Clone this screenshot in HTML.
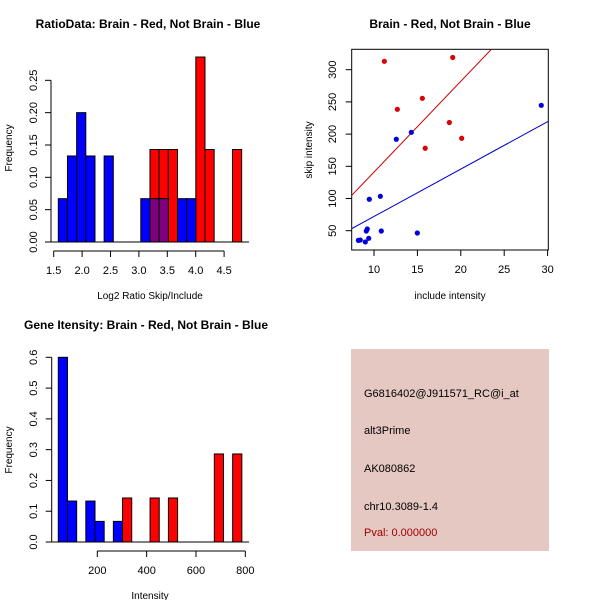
<!DOCTYPE html>
<html><head><meta charset="utf-8"><style>
html,body{margin:0;padding:0;background:#fff;}
svg{display:block;font-family:"Liberation Sans",sans-serif;}
</style></head><body>
<svg id="chart" width="600" height="600" viewBox="0 0 600 600">
<rect x="0" y="0" width="600" height="600" fill="#fff"/>
<text x="148" y="28" text-anchor="middle" font-size="12" font-weight="bold">RatioData: Brain - Red, Not Brain - Blue</text>
<text x="450" y="28" text-anchor="middle" font-size="12" font-weight="bold">Brain - Red, Not Brain - Blue</text>
<text x="146" y="329" text-anchor="middle" font-size="12" font-weight="bold">Gene Itensity: Brain - Red, Not Brain - Blue</text>
<text x="150" y="299" text-anchor="middle" font-size="10">Log2 Ratio Skip/Include</text>
<text x="12" y="148" text-anchor="middle" font-size="10" transform="rotate(-90 12 148)">Frequency</text>
<text x="450" y="299" text-anchor="middle" font-size="10">include intensity</text>
<text x="312" y="150" text-anchor="middle" font-size="10" transform="rotate(-90 312 150)">skip intensity</text>
<text x="150" y="599" text-anchor="middle" font-size="10">Intensity</text>
<text x="12" y="450" text-anchor="middle" font-size="10" transform="rotate(-90 12 450)">Frequency</text>
<g>
<rect x="351" y="349" width="198" height="202" fill="#e6c8c2"/>
<text x="364" y="397" font-size="11" fill="#000">G6816402@J911571_RC@i_at</text>
<text x="364" y="434" font-size="11" fill="#000">alt3Prime</text>
<text x="364" y="472" font-size="11" fill="#000">AK080862</text>
<text x="364" y="510" font-size="11" fill="#000">chr10.3089-1.4</text>
<text x="364" y="536" font-size="11" fill="#a00000">Pval: 0.000000</text>
</g>
</svg>
<script>
// ---- Ratio histogram data ----
const ratioBinStart = 1.581, ratioBinWidth = 0.1614;
const ratioBlueBins = [0,1,2,3,5,9,10,11,13,14];
const ratioBlueFreq = [0.067,0.133,0.2,0.133,0.133,0.067,0.067,0.067,0.067,0.067];
const ratioRedBins = [10,11,12,15,16,19];
const ratioRedFreq = [0.143,0.143,0.143,0.286,0.143,0.143];
const ratioXTicks = [1.5,2.0,2.5,3.0,3.5,4.0,4.5];
const ratioYTicks = [0,0.05,0.10,0.15,0.20,0.25];
// ---- Scatter data ----
const redX = [11.19,19.07,12.69,15.57,18.68,20.1,15.9];
const redY = [313,319,238.5,255.6,218,193.5,178];
const blueX = [29.27,14.3,12.57,9.46,10.73,10.84,14.99,9.23,9.11,9.39,9.0,8.42,8.2];
const blueY = [244.7,202.8,192,98.8,103.4,49.5,46.4,52.6,49.5,38.2,32.5,35.5,35];
const redFit = [0, 14.1];
const blueFit = [-1.5, 7.36];
const scatterXTicks = [10,15,20,25,30];
const scatterYTicks = [50,100,150,200,250,300];
// ---- Intensity histogram data ----
const intBinStart = 41.9, intBinWidth = 37.2;
const intBlueBins = [0,1,3,4,6];
const intBlueFreq = [0.6,0.133,0.133,0.067,0.067];
const intRedBins = [7,10,12,17,19];
const intRedFreq = [0.143,0.143,0.143,0.286,0.286];
const intXTicks = [200,400,600,800];
const intYTicks = [0,0.1,0.2,0.3,0.4,0.5,0.6];

const svg = document.getElementById('chart');
const NS = 'http://www.w3.org/2000/svg';
function mk(tag, attrs){const e=document.createElementNS(NS,tag);for(const k in attrs)e.setAttribute(k,attrs[k]);svg.appendChild(e);return e;}

// scales
const rX = v => 53.7 + (v-1.5)*56.8;
const rY = v => 242 - v*646.7;
const sX = v => 374 + (v-10)*8.68;
const sY = v => 230.7 - (v-50)*0.644;
const iX = v => 97.3 + (v-200)*0.2467;
const iY = v => 542 - v*307.8;

function hist(binStart, w, bins, freqs, xs, ys, color, prefix){
  bins.forEach((b,i)=>{
    const x0=xs(binStart+b*w), x1=xs(binStart+(b+1)*w);
    const r=mk('rect',{x:x0,y:ys(freqs[i]),width:x1-x0,height:ys(0)-ys(freqs[i]),fill:color,stroke:'#000','stroke-width':1});
    
    
  });
}
function overlap(binStart,w,bA,fA,bB,fB,xs,ys,prefix){
  bA.forEach((b,i)=>{const j=bB.indexOf(b);if(j<0)return;const f=Math.min(fA[i],fB[j]);
    const x0=xs(binStart+b*w), x1=xs(binStart+(b+1)*w);
    const r=mk('rect',{x:x0,y:ys(f),width:x1-x0,height:ys(0)-ys(f),fill:'#7f007f',stroke:'#000','stroke-width':1});
    
    
  });
}
function xAxis(ticks,xs,y,lab,prefix,fmt){
  const l=mk('line',{x1:xs(ticks[0]),x2:xs(ticks[ticks.length-1]),y1:y,y2:y,stroke:'#000'});
  
  
  ticks.forEach(t=>{mk('line',{x1:xs(t),x2:xs(t),y1:y,y2:y+6,stroke:'#000'});
    const tx=mk('text',{x:xs(t),y:lab,'text-anchor':'middle','font-size':11});tx.textContent=fmt(t);
    
    });
}
function yAxis(ticks,ys,x,lab,prefix,fmt){
  const l=mk('line',{x1:x,x2:x,y1:ys(ticks[0]),y2:ys(ticks[ticks.length-1]),stroke:'#000'});
  
  
  ticks.forEach(t=>{mk('line',{x1:x,x2:x-6,y1:ys(t),y2:ys(t),stroke:'#000'});
    const tx=mk('text',{x:lab,y:ys(t),'text-anchor':'middle','font-size':11,transform:`rotate(-90 ${lab} ${ys(t)})`});tx.textContent=fmt(t);
    
    });
}

// Ratio histogram
hist(ratioBinStart,ratioBinWidth,ratioRedBins,ratioRedFreq,rX,rY,'#ff0000','ratio-red');
hist(ratioBinStart,ratioBinWidth,ratioBlueBins,ratioBlueFreq,rX,rY,'#0000ff','ratio-blue');
overlap(ratioBinStart,ratioBinWidth,ratioBlueBins,ratioBlueFreq,ratioRedBins,ratioRedFreq,rX,rY,'ratio');
const rb=mk('line',{x1:51,x2:249,y1:rY(0),y2:rY(0),stroke:'#000'});


xAxis(ratioXTicks,rX,251,274,'ratio',t=>t.toFixed(1));
yAxis(ratioYTicks,rY,51,37,'ratio',t=>t.toFixed(2));

// Scatter
const box=mk('rect',{x:351.7,y:49.3,width:196.6,height:200.7,fill:'none',stroke:'#000'});


const cp=mk('clipPath',{id:'sclip'});cp.appendChild(Object.assign(document.createElementNS(NS,'rect'),{}));
cp.firstChild.setAttribute('x',351.7);cp.firstChild.setAttribute('y',49.3);cp.firstChild.setAttribute('width',196.6);cp.firstChild.setAttribute('height',200.7);
[[redFit,'#cc0000','red-fit-line'],[blueFit,'#0000cc','blue-fit-line']].forEach(([c,col,nm])=>{
  const x1=7.4,x2=30.05;
  const l=mk('line',{x1:sX(x1),x2:sX(x2),y1:sY(c[0]+c[1]*x1),y2:sY(c[0]+c[1]*x2),stroke:col,'stroke-width':1,'clip-path':'url(#sclip)'});
  
  
});
redX.forEach((x,i)=>{const c=mk('circle',{cx:sX(x),cy:sY(redY[i]),r:2.6,fill:'#dd0000'});
  
  });
blueX.forEach((x,i)=>{const c=mk('circle',{cx:sX(x),cy:sY(blueY[i]),r:2.6,fill:'#0000dd'});
  
  });
scatterXTicks.forEach(t=>{mk('line',{x1:sX(t),x2:sX(t),y1:250,y2:256,stroke:'#000'});
  const tx=mk('text',{x:sX(t),y:273,'text-anchor':'middle','font-size':11});tx.textContent=t;
  
  });
scatterYTicks.forEach(t=>{mk('line',{x1:351.7,x2:345.7,y1:sY(t),y2:sY(t),stroke:'#000'});
  const tx=mk('text',{x:336,y:sY(t),'text-anchor':'middle','font-size':11,transform:`rotate(-90 336 ${sY(t)})`});tx.textContent=t;
  
  });

// Intensity histogram
hist(intBinStart,intBinWidth,intBlueBins,intBlueFreq,iX,iY,'#0000ff','intensity-blue');
hist(intBinStart,intBinWidth,intRedBins,intRedFreq,iX,iY,'#ff0000','intensity-red');
const ib=mk('line',{x1:51.7,x2:249,y1:iY(0),y2:iY(0),stroke:'#000'});


xAxis(intXTicks,iX,551,574,'intensity',t=>String(t));
yAxis(intYTicks,iY,51.7,37,'intensity',t=>t.toFixed(1));
</script>
</body></html>
